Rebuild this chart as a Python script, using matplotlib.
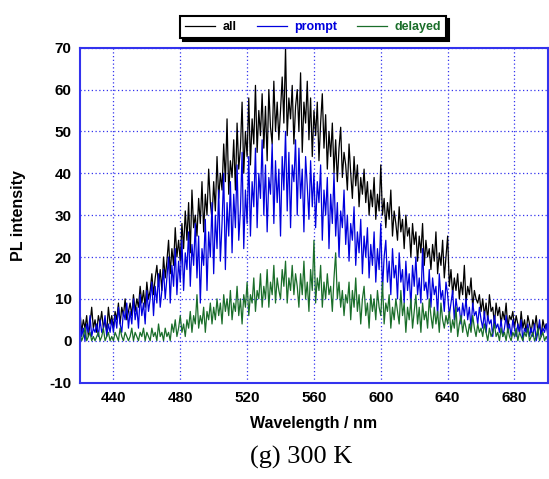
import matplotlib
matplotlib.use("Agg")
import matplotlib.pyplot as plt
from matplotlib.ticker import FuncFormatter

wavelength = list(range(420, 701))

all_counts = [
    7, 2, 5, 3, 6, 1, 4, 8, 3, 5,
    2, 6, 4, 7, 3, 5, 2, 8, 4, 6,
    3, 7, 5, 9, 4, 8, 6, 10, 5, 7,
    9, 6, 11, 7, 10, 8, 13, 9, 12, 8,
    14, 10, 12, 16, 11, 15, 18, 13, 17, 12,
    20, 15, 19, 24, 16, 22, 18, 27, 20, 24,
    19, 28, 22, 31, 24, 33, 21, 36, 27, 30,
    25, 34, 28, 38, 26, 35, 30, 41, 33, 29,
    38, 31, 44, 34, 40, 36, 47, 38, 53, 35,
    43, 39, 48, 36, 52, 41, 46, 57, 40, 50,
    44, 58, 42, 53, 47, 61, 45, 55, 49, 59,
    46, 56, 43, 60, 51, 47, 62, 50, 57, 48,
    55, 63, 52, 70, 49, 58, 53, 61, 47, 56,
    60, 50, 64, 45, 57, 52, 62, 48, 58, 44,
    55, 49, 57, 43, 52, 59, 46, 54, 41, 50,
    44, 52, 40, 48, 38, 46, 51, 39, 45, 42,
    36, 47, 40, 34, 44, 37, 42, 32, 39, 35,
    41, 33, 38, 30, 36, 32, 39, 29, 35, 31,
    42, 30, 34, 27, 33, 29, 36, 25, 31, 28,
    24, 32, 26, 29, 22, 30, 25, 27, 20, 28,
    23, 26, 19, 25, 21, 28, 18, 24, 20, 22,
    17, 23, 19, 26, 16, 21, 18, 24, 15, 20,
    25, 13, 17, 11, 15, 12, 16, 10, 14, 11,
    18, 9, 13, 11, 15, 8, 12, 10, 9, 11,
    7, 10, 6, 9, 5, 11, 7, 8, 4, 9,
    6, 8, 4, 7, 5, 9, 3, 6, 5, 7,
    3, 6, 4, 2, 7, 3, 5, 2, 6, 4,
    2, 5, 3, 6, 2, 4, 1, 5, 3, 4,
    2,
]

prompt_counts = [
    5, 1, 3, 0, 4, 2, 6, 1, 3, 2,
    4, 1, 5, 2, 3, 6, 1, 4, 2, 5,
    2, 6, 3, 8, 4, 2, 7, 5, 9, 3,
    7, 4, 10, 5, 8, 3, 11, 6, 9, 4,
    12, 7, 10, 14, 6, 13, 9, 16, 8, 12,
    17, 10, 15, 20, 9, 18, 13, 22, 11, 19,
    14, 24, 12, 21, 17, 26, 13, 23, 18, 28,
    15, 25, 9, 22, 18, 29, 12, 26, 20, 33,
    16, 30, 22, 36, 19, 28, 40, 17, 33, 25,
    38, 21, 35, 27, 42, 24, 31, 45, 22, 36,
    28, 44, 25, 38, 32, 46, 27, 40, 34, 48,
    30, 42, 26, 39, 35, 47, 28, 43, 33, 41,
    25, 44, 36, 50, 31, 45, 27, 42, 38, 48,
    30, 46, 34, 41, 26, 44, 37, 29, 43, 32,
    40, 27, 38, 33, 42, 24, 36, 30, 39, 22,
    35, 28, 40, 25, 33, 20, 31, 27, 36, 23,
    30, 19, 28, 24, 32, 18, 26, 21, 29, 16,
    25, 20, 27, 15, 23, 18, 26, 14, 22, 17,
    28, 12, 20, 24, 14, 19, 11, 22, 15, 18,
    10, 21, 14, 17, 9, 19, 12, 16, 8, 18,
    13, 20, 11, 15, 9, 22, 12, 14, 10, 17,
    8, 15, 11, 13, 6, 16, 10, 12, 7, 14,
    11, 6, 9, 12, 5, 10, 7, 8, 4, 9,
    6, 10, 5, 8, 3, 9, 6, 7, 4, 8,
    5, 3, 7, 2, 6, 4, 5, 1, 6, 3,
    4, 2, 5, 1, 3, 6, 2, 4, 1, 5,
    3, 1, 4, 2, 5, 0, 3, 2, 4, 1,
    3, 1, 4, 0, 2, 5, 1, 3, 2, 4,
    1,
]

delayed_counts = [
    2, 0, 1, 3, 0, 1, 2, 0, 1, 0,
    1, 2, 0, 1, 3, 0, 1, 2, 0, 1,
    0, 2, 1, 0, 3, 1, 0, 2, 1, 0,
    1, 3, 0, 2, 1, 0, 2, 1, 3, 0,
    2, 1, 0, 3, 1, 2, 0, 4, 1, 2,
    0, 3, 1, 2, 0, 4, 2, 5, 1, 3,
    6, 2, 4, 1, 5, 3, 7, 2, 6, 4,
    11, 3, 6, 4, 8, 2, 7, 5, 9, 4,
    8, 5, 10, 6, 9, 4, 11, 7, 10, 6,
    12, 5, 9, 7, 13, 6, 10, 4, 11, 8,
    14, 6, 11, 9, 15, 7, 12, 10, 16, 8,
    13, 10, 17, 8, 14, 11, 18, 9, 15, 12,
    10, 17, 13, 19, 9, 15, 12, 18, 11, 16,
    13, 8, 16, 11, 19, 10, 14, 7, 17, 12,
    24, 9, 15, 12, 18, 8, 14, 10, 16, 11,
    13, 7, 15, 21, 10, 14, 8, 12, 6, 11,
    9, 14, 5, 12, 8, 15, 7, 11, 4, 10,
    13, 6, 9, 3, 11, 7, 10, 5, 12, 8,
    6, 14, 4, 9, 7, 11, 3, 8, 5, 10,
    7, 4, 12, 6, 9, 2, 8, 5, 10, 3,
    7, 11, 4, 8, 2, 9, 5, 7, 3, 10,
    6, 3, 8, 4, 7, 2, 9, 5, 3, 6,
    4, 7, 2, 5, 3, 8, 1, 4, 6, 2,
    5, 3, 1, 4, 2, 6, 3, 1, 4, 2,
    3, 1, 4, 2, 0, 3, 1, 2, 4, 1,
    2, 0, 3, 1, 2, 0, 3, 1, 0, 2,
    1, 3, 0, 2, 1, 0, 2, 1, 3, 0,
    1, 2, 0, 1, 3, 0, 1, 2, 0, 1,
    0,
]

series_names = ["all", "prompt", "delayed"]
series_colors = ["#000000", "#0000dd", "#1a6e2a"]
x_ticks = [440, 480, 520, 560, 600, 640, 680]
y_ticks = [-10, 0, 10, 20, 30, 40, 50, 60, 70]

plt.rcParams["font.family"] = ["Liberation Sans", "DejaVu Sans"]
fig = plt.figure(figsize=(5.49, 4.79), dpi=100)
ax = fig.add_axes([0.1457, 0.2013, 0.998 - 0.1457, 0.9004 - 0.2013])

lines = []
for vals, name, col in zip([all_counts, prompt_counts, delayed_counts], series_names, series_colors):
    ln, = ax.plot(wavelength, vals, color=col, lw=0.9, label=name)
    lines.append(ln)

ax.set_xlim(420, 700)
ax.set_ylim(-10, 70)
ax.set_xticks(x_ticks)
ax.set_yticks(y_ticks)
ax.yaxis.set_major_formatter(FuncFormatter(lambda v, p: "%d" % v))
ax.grid(True, color="#3333ee", linestyle=(0, (1.0, 2.0)), linewidth=0.9)
ax.set_axisbelow(True)
for s in ax.spines.values():
    s.set_color("#3333ee")
    s.set_linewidth(1.5)
ax.tick_params(axis="both", direction="in", length=0, colors="black", labelsize=11, pad=6)
for lab in ax.get_xticklabels() + ax.get_yticklabels():
    lab.set_fontweight("bold")

ax.set_xlabel("Wavelength / nm", fontsize=11.5, fontweight="bold", labelpad=8)
ax.set_ylabel("PL intensity", fontsize=11.5, fontweight="bold", labelpad=17)

leg = fig.legend(handles=lines, loc="center", bbox_to_anchor=(0.571, 0.9426), ncol=3,
                 frameon=True, fancybox=False, shadow={"color": "black", "alpha": 1},
                 fontsize=9, handlelength=2.4, columnspacing=1.6, handletextpad=0.6,
                 borderpad=0.4, borderaxespad=0, edgecolor="black")
leg.get_frame().set_linewidth(1.5)
for txt, col in zip(leg.get_texts(), series_colors):
    txt.set_color(col)
    txt.set_fontweight("bold")

fig.text(0.548, 0.032, "(g) 300 K", ha="center", va="baseline", fontsize=19,
         family=["Liberation Serif", "DejaVu Serif"])

fig.savefig("out.png", dpi=100)
